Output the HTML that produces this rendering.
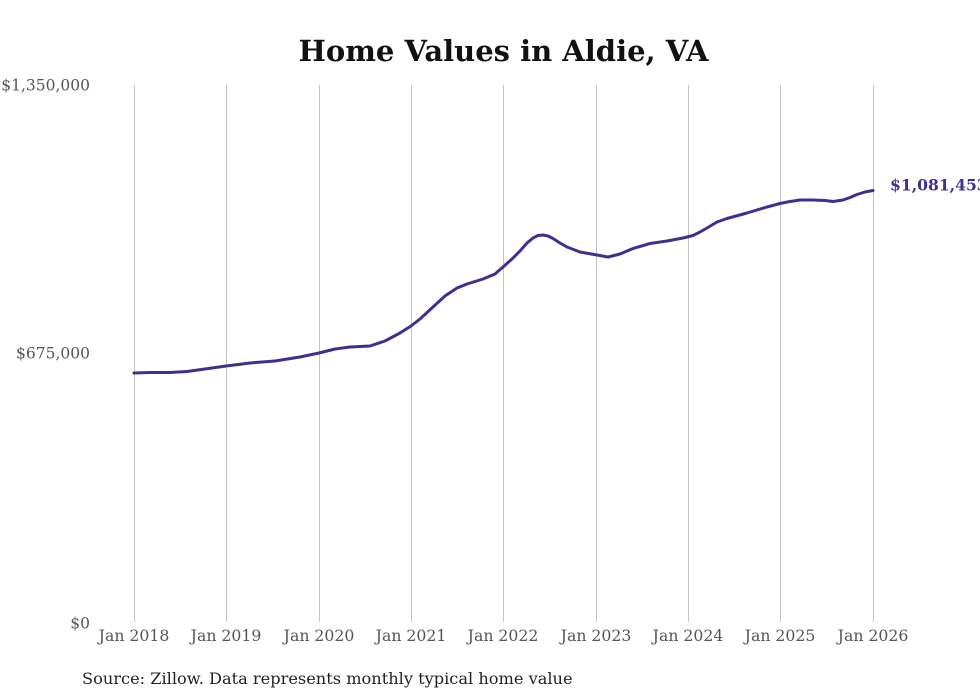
<!DOCTYPE html>
<html>
<head>
<meta charset="utf-8">
<style>
  html,body{margin:0;padding:0;background:#fff;}
  body{width:980px;height:699px;overflow:hidden;}
  svg{display:block;}
  .yl{font-family:"DejaVu Serif","Liberation Serif",serif;font-size:15.5px;fill:#555;}
  .xl{font-family:"DejaVu Serif","Liberation Serif",serif;font-size:15.7px;fill:#555;}
</style>
</head>
<body>
<svg width="980" height="699" viewBox="0 0 980 699" xmlns="http://www.w3.org/2000/svg">
  <rect width="980" height="699" fill="#fff"/>
  <text x="503.5" y="61" text-anchor="middle" font-family="DejaVu Serif, Liberation Serif, serif" font-weight="bold" font-size="29" fill="#111">Home Values in Aldie, VA</text>

  <g stroke="#c4c4c4" stroke-width="1">
    <line x1="134.5" y1="85" x2="134.5" y2="622"/>
    <line x1="226.5" y1="85" x2="226.5" y2="622"/>
    <line x1="319.5" y1="85" x2="319.5" y2="622"/>
    <line x1="411.5" y1="85" x2="411.5" y2="622"/>
    <line x1="503.5" y1="85" x2="503.5" y2="622"/>
    <line x1="596.5" y1="85" x2="596.5" y2="622"/>
    <line x1="688.5" y1="85" x2="688.5" y2="622"/>
    <line x1="780.5" y1="85" x2="780.5" y2="622"/>
    <line x1="873.5" y1="85" x2="873.5" y2="622"/>
  </g>

  <text class="yl" x="90" y="90.5" text-anchor="end">$1,350,000</text>
  <text class="yl" x="90" y="358.5" text-anchor="end">$675,000</text>
  <text class="yl" x="90" y="628.5" text-anchor="end">$0</text>

  <g class="xl" text-anchor="middle">
    <text x="134" y="641">Jan 2018</text>
    <text x="226" y="641">Jan 2019</text>
    <text x="319" y="641">Jan 2020</text>
    <text x="411" y="641">Jan 2021</text>
    <text x="503" y="641">Jan 2022</text>
    <text x="596" y="641">Jan 2023</text>
    <text x="688" y="641">Jan 2024</text>
    <text x="780" y="641">Jan 2025</text>
    <text x="873" y="641">Jan 2026</text>
  </g>

  <polyline fill="none" stroke="#3b3190" stroke-width="3" stroke-linejoin="round" stroke-linecap="round"
    points="134,373 150,372.5 170,372.5 187,371.5 205,369 226,366 250,363 275,361 300,357 319,353 335,349 350,347 370,346 385,341 400,333 411,326 420,319 433,307 445,296 457,288 467,284 483,279 495,274 503,267 512,259 520,251 527,243 533,238 538,235.5 543,235 548,236 553,238.5 560,243 567,247 580,252 597,255 608,257 620,254 633,248.5 650,243.5 667,241 683,238 693,235.5 700,232 707,228 717,222 727,218.5 747,213 767,207 780,203.5 790,201.5 800,200 813,200 825,200.5 833,201.5 843,200 850,197.5 857,194.5 865,192 873,190.5"/>

  <text x="890" y="190.5" font-family="DejaVu Serif, Liberation Serif, serif" font-weight="bold" font-size="15.6" fill="#3b3190">$1,081,453</text>

  <text x="82" y="684" font-family="DejaVu Serif, Liberation Serif, serif" font-size="16.2" fill="#222">Source: Zillow. Data represents monthly typical home value</text>
</svg>
</body>
</html>
